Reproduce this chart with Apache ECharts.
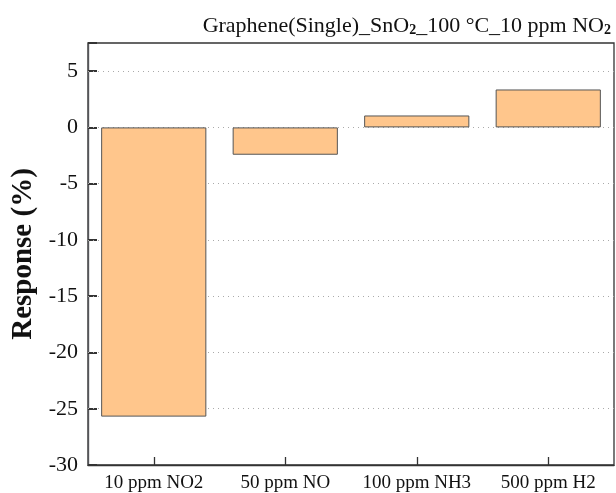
<!DOCTYPE html>
<html><head><meta charset="utf-8">
<script src="https://cdn.jsdelivr.net/npm/echarts@6/dist/echarts.min.js"></script>
<style>html,body{margin:0;padding:0;background:#fff}#c{width:616px;height:493px}</style>
</head><body><div id="c"></div>
<script>
const categories = ['10 ppm NO2', '50 ppm NO', '100 ppm NH3', '500 ppm H2'];
const responses = [-25.7, -2.43, 1.06, 3.37];
const yMin = -30, yMax = 7.5, yStep = 5;
const gridValues = [5, 0, -5, -10, -15, -20, -25];
const F = '"Liberation Serif","Times New Roman",serif';
const chart = echarts.init(document.getElementById('c'), null, {renderer: 'canvas'});
chart.setOption({
  animation: false,
  backgroundColor: '#fff',
  title: {
    text: '{a|Graphene(Single)_SnO}{s|2}{a|_100 °C_10 ppm NO}{s|2}',
    right: 0, top: 5,
    textStyle: {
      rich: {
        a: {fontFamily: F, fontSize: 22, color: '#111', fontWeight: 'normal', verticalAlign: 'bottom'},
        s: {fontFamily: F, fontSize: 14, color: '#111', verticalAlign: 'bottom', padding: [13, 0, 0, 0]}
      }
    }
  },
  grid: {left: 88, right: 2, top: 43, bottom: 26, show: true, borderColor: '#333', borderWidth: 1.3, backgroundColor: 'transparent'},
  xAxis: {
    type: 'category', data: categories,
    axisLine: {onZero: false, lineStyle: {color: '#333', width: 1.3}},
    axisTick: {show: true, inside: true, alignWithLabel: true, length: 8, lineStyle: {color: '#333', width: 1.3}},
    axisLabel: {fontFamily: F, fontSize: 19, color: '#111', margin: 9, interval: 0}
  },
  yAxis: [{
    type: 'value', min: yMin, max: yMax, interval: yStep,
    name: 'Response (%)', nameLocation: 'middle', nameGap: 43,
    nameTextStyle: {fontFamily: F, fontSize: 29, fontWeight: 'bold', color: '#111'},
    axisLine: {show: true, lineStyle: {color: '#333', width: 1.3}},
    axisTick: {show: false},
    axisLabel: {fontFamily: F, fontSize: 22, color: '#111', margin: 10, showMaxLabel: false},
    splitLine: {show: false}
  }, {
    type: 'value', min: yMin, max: yMax, interval: yStep, position: 'left',
    axisLine: {show: true},
    axisTick: {show: true, inside: true, length: 9, lineStyle: {color: '#333', width: 2}},
    axisLabel: {show: false}, splitLine: {show: false}
  }],
  series: [{
    type: 'bar', data: responses, barWidth: '80%', z: 2,
    itemStyle: {color: '#FFC68C', borderColor: '#555', borderWidth: 1},
    markLine: {
      silent: true, symbol: 'none', z: 1,
      label: {show: false},
      lineStyle: {color: '#aaa', type: [1, 4], width: 1},
      data: gridValues.map(v => ({yAxis: v}))
    }
  }]
});
</script></body></html>
